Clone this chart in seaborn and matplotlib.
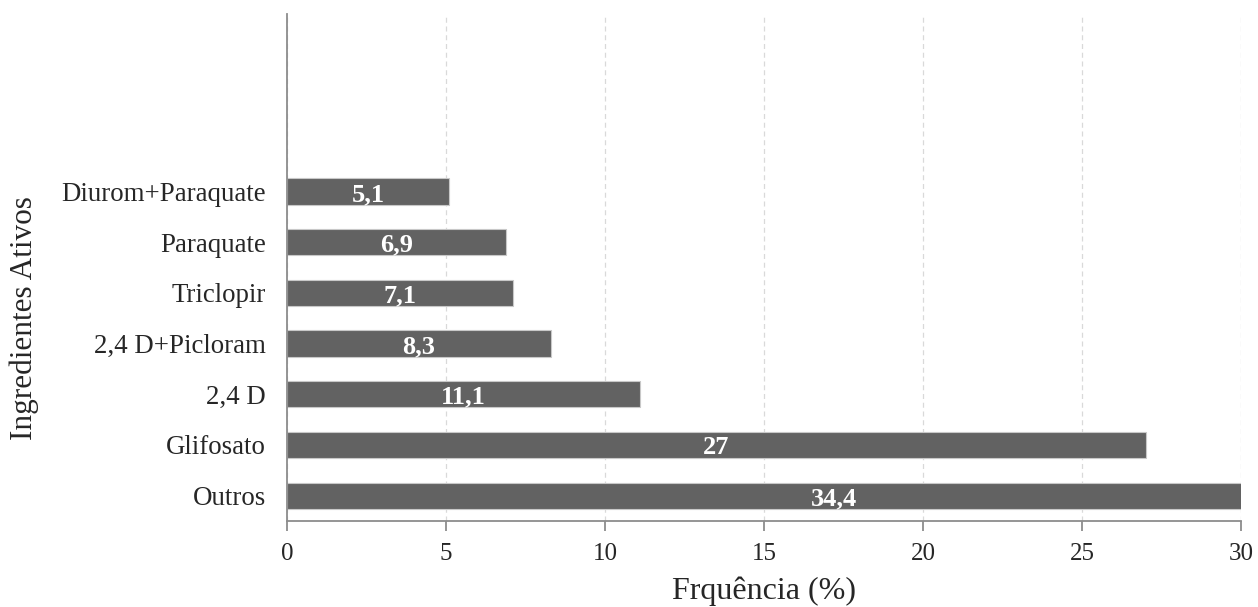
import numpy as np
import pandas as pd
import matplotlib
matplotlib.use("Agg")
import matplotlib.pyplot as plt
import seaborn as sns

# data (top to bottom as drawn)
ingredientes = ["Diurom+Paraquate", "Paraquate", "Triclopir", "2,4 D+Picloram",
                "2,4 D", "Glifosato", "Outros"]
frequencia = [5.1, 6.9, 7.1, 8.3, 11.1, 27.0, 34.4]
rotulos = ["5,1", "6,9", "7,1", "8,3", "11,1", "27", "34,4"]
xticks = [0, 5, 10, 15, 20, 25, 30]

df = pd.DataFrame({"ing": ingredientes, "freq": frequencia})

sns.set_style("white")
plt.rcParams['font.family'] = ['Liberation Serif', 'DejaVu Serif']

fig = plt.figure(figsize=(12.58, 6.07), dpi=100)
ax = fig.add_axes([0.2281, 0.1417, 0.9865 - 0.2281, 0.9769 - 0.1417])

sns.barplot(data=df, x="freq", y="ing", order=ingredientes, color="#626262",
            saturation=1, width=0.515, edgecolor="#c8c8c8", linewidth=0.8,
            ax=ax, zorder=3)

# bar labels centred on the full value
for i, (v, lab) in enumerate(zip(frequencia, rotulos)):
    ax.text(v / 2, i + 0.06, lab, ha="center", va="center", color="white",
            fontsize=19, fontweight="bold", zorder=4, clip_on=False)

ax.set_xlim(0, 30)
ax.set_ylim(6.5, -3.5)
ax.set_xticks(xticks)
ax.set_xticklabels([str(t) for t in xticks])
ax.grid(axis="x", color="#d9d9d9", linestyle=(0, (4, 3)), linewidth=0.9, zorder=0)
ax.grid(axis="y", visible=False)

for s in ["top", "right"]:
    ax.spines[s].set_visible(False)
for s in ["left", "bottom"]:
    ax.spines[s].set_color("#8c8c8c")
    ax.spines[s].set_linewidth(1.3)
    ax.spines[s].set_zorder(5)

ax.tick_params(axis="x", direction="out", length=7, width=1.3, color="#8c8c8c",
               labelsize=18, pad=9, bottom=True)
ax.tick_params(axis="y", length=0, labelsize=19.4, pad=15)

ax.set_xlabel("Frquência (%)", fontsize=23, labelpad=8)
ax.set_ylabel("Ingredientes Ativos", fontsize=22.5)
ax.yaxis.set_label_coords(-0.2595, 0.40)

fig.savefig("out.png", dpi=100)
